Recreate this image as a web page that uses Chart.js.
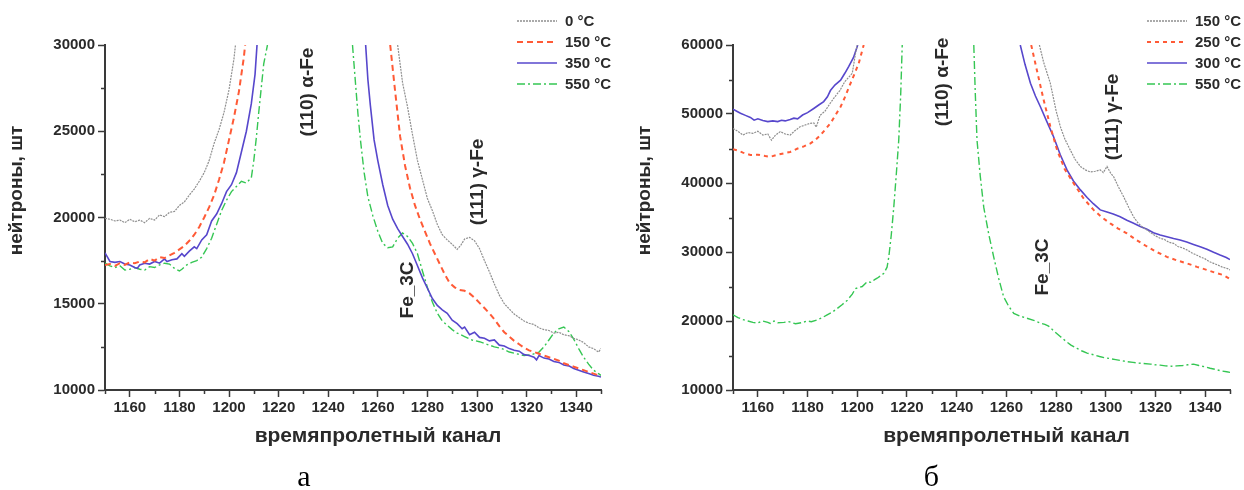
<!DOCTYPE html>
<html>
<head>
<meta charset="utf-8">
<script src="https://cdn.jsdelivr.net/npm/chart.js@4.4.1/dist/chart.umd.min.js"></script>
<style>
  html, body { margin: 0; padding: 0; background: #fff; }
  #wrap { position: relative; width: 1244px; height: 490px; overflow: hidden; }
  canvas { position: absolute; top: 0; }
  #chartA { left: 0; }
  #chartB { left: 622px; }
</style>
</head>
<body>
<div id="wrap">
  <canvas id="chartA" width="622" height="490"></canvas>
  <canvas id="chartB" width="622" height="490"></canvas>
</div>
<script>
// ---- axis ticks ----
const xTicks = [1160, 1180, 1200, 1220, 1240, 1260, 1280, 1300, 1320, 1340];
const xMinor = [1150, 1170, 1190, 1210, 1230, 1250, 1270, 1290, 1310, 1330, 1350];
const yTicksA = [10000, 15000, 20000, 25000, 30000];
const yMinorA = [12500, 17500, 22500, 27500];
const yTicksB = [10000, 20000, 30000, 40000, 50000, 60000];
const yMinorB = [15000, 25000, 35000, 45000, 55000];

// ---- panel а: channel / neutron counts (null = above the axis range) ----
const a0Ch = [1150,1152,1154,1156,1158,1160,1162,1164,1166,1168,1170,1172,1174,1176,1178,1180,1182,1184,1186,1188,1190,1192,1194,1196,1198,1200,1202,1202.6,
  1235,
  1268,1270,1272,1274,1276,1278,1280,1282,1284,1286,1288,1290,1292,1293.5,1295,1297,1299,1301,1303,1305,1307,1309,1311,1313,1315,1317,1319,1321,1323,1325,1327,1329,1331,1333,1335,1337,1339,1341,1343,1345,1347,1349,1350];
const a0N = [19950,19900,19800,19850,19700,19900,19750,19850,19700,19950,19850,20150,20050,20300,20350,20700,20900,21300,21650,22100,22600,23300,24300,25100,26100,27400,29200,30000,
  null,
  30000,27800,26400,24800,23300,22200,21100,20400,19600,19000,18700,18450,18150,18400,18750,18850,18650,18200,17500,16850,16150,15500,15000,14700,14400,14200,14000,13870,13800,13600,13500,13450,13300,13350,13200,13150,13000,12900,12750,12500,12400,12200,12400];

const a150Ch = [1150,1152,1154,1156,1158,1160,1162,1164,1166,1168,1170,1172,1174,1176,1178,1180,1182,1184,1186,1188,1190,1192,1194,1196,1198,1200,1202,1204,1206,1206.5,
  1235,
  1265,1267,1269,1271,1273,1275,1277,1279,1281,1283,1285,1287,1289,1291,1293,1295,1297,1299,1301,1303,1305,1307,1309,1311,1313,1315,1317,1319,1321,1323,1325,1327,1329,1331,1333,1335,1337,1339,1341,1343,1345,1347,1349,1350];
const a150N = [17250,17300,17200,17350,17250,17400,17350,17450,17400,17600,17500,17700,17650,17800,17950,18150,18350,18650,19000,19450,20000,20600,21300,22200,23200,24500,25800,27300,29300,30000,
  null,
  30000,27300,24700,23000,21700,20700,19900,19200,18500,17900,17300,16700,16200,15950,15800,15750,15600,15350,15050,14750,14450,14100,13700,13350,13100,12850,12650,12450,12300,12200,12100,12000,11900,11800,11700,11550,11450,11350,11250,11150,11050,10950,10850,10800];

const a350Ch = [1150,1151,1152,1154,1156,1158,1160,1162,1163,1164,1166,1168,1170,1172,1174,1175,1177,1179,1181,1182,1184,1186,1187,1189,1191,1193,1195,1197,1199,1201,1203,1205,1207,1209,1210.5,1211.3,
  1235,
  1255.1,1256,1257,1258.5,1260,1262,1264,1266,1268,1270,1272,1274,1276,1278,1280,1282,1284,1286,1288,1290,1292,1294,1295,1297,1299,1301,1303,1305,1307,1309,1311,1313,1315,1317,1319,1321,1323,1324,1325,1327,1329,1331,1333,1335,1337,1339,1341,1343,1345,1347,1349,1350];
const a350N = [17950,17700,17450,17400,17450,17300,17250,17100,17050,17250,17350,17300,17450,17350,17600,17450,17550,17600,17900,17750,18050,18300,18200,18700,19000,19800,20200,20800,21500,21900,22600,23800,25000,26600,28300,30000,
  null,
  30000,28000,26500,24500,23300,21900,20700,19900,19350,18900,18450,17900,17200,16500,15900,15300,14900,14650,14450,14050,13850,13550,13650,13200,13350,13050,13000,12850,12900,12600,12550,12400,12300,12250,12050,12000,11900,11750,12000,11850,11800,11650,11600,11450,11400,11250,11150,11050,10950,10850,10800,10750];

const a550Ch = [1150,1152,1154,1156,1158,1160,1162,1164,1166,1168,1170,1172,1174,1176,1178,1180,1181,1183,1185,1187,1189,1191,1193,1195,1197,1199,1201,1203,1205,1207,1209,1210,1211,1212,1213,1214,1215.5,
  1235,
  1249.8,1251,1252,1253,1254.5,1256,1258,1260,1262,1264,1266,1268,1270,1272,1274,1276,1278,1280,1282,1284,1286,1288,1290,1292,1295,1298,1301,1304,1307,1310,1313,1316,1319,1322,1325,1327,1329,1331,1333,1335,1337,1339,1341,1343,1345,1347,1349,1350];
const a550N = [17350,17200,17100,17200,16950,17000,17100,17000,16950,17150,17100,17250,17350,17300,17050,16900,17000,17250,17400,17500,17700,18200,18800,19600,20400,21000,21500,21800,22100,22000,22300,23300,24600,26100,27500,28900,30000,
  null,
  30000,27800,26000,24500,22600,21200,20100,19200,18500,18250,18300,18800,19100,18900,18500,17900,16900,15950,15100,14450,14000,13750,13500,13300,13100,12900,12800,12650,12500,12400,12200,12100,12000,12050,12200,12500,12900,13300,13550,13650,13400,12950,12400,11900,11500,11150,10950,10850];

// ---- panel б ----
const b150Ch = [1150,1152,1154,1156,1158,1160,1162,1164,1165.5,1167,1169,1171,1173,1175,1177,1179,1181,1182.5,1183.5,1185,1187,1189,1191,1193,1195,1197,1198,1199.3,1200,
  1235,
  1273.3,1275,1277.7,1280,1281.7,1283.5,1285.7,1287.7,1289.8,1291.8,1293.8,1295.8,1297.8,1299,1300.5,1302,1303.2,1305,1307.2,1309.2,1311.2,1313,1314.8,1316.6,1318.5,1320.2,1321.9,1323.7,1325.5,1327.3,1329,1330.9,1332.7,1334.5,1336.3,1338,1340,1341.7,1343.4,1345.2,1347,1349,1350];
const b150N = [47900,47500,46950,47300,47200,47500,46950,47100,46200,46900,47450,47100,46950,47600,48150,48400,48650,48700,48100,49800,50400,51500,52500,53400,54700,55500,55900,58800,60000,
  null,
  60000,57500,54450,50500,48200,46400,44800,43400,42400,41900,41600,41700,41900,41500,42400,41400,40900,39500,38000,36500,35100,34200,33600,33200,32700,32300,32000,31800,31400,31250,30800,30600,30300,29900,29600,29300,29000,28600,28350,28100,27800,27600,27400];

const b250Ch = [1150,1152,1154,1157,1160,1163,1165,1168,1170.5,1173,1176,1178.5,1181.2,1183,1185.2,1187,1189.2,1191,1193.3,1195,1197.3,1199,1200.6,1202.6,
  1235,
  1270,1272.5,1275,1277.7,1280.4,1283.5,1287.1,1291,1295.1,1298.5,1301.8,1305,1308.5,1312.5,1316.6,1320.5,1324.6,1328.5,1332.7,1336.7,1340.7,1344,1347.4,1350];
const b250N = [44900,44700,44400,44050,44100,43900,43800,44100,44300,44500,45000,45300,45750,46200,46950,47700,48650,49700,51050,52400,54450,55900,57350,60000,
  null,
  60000,56000,52050,48200,44800,42000,39950,37800,36100,35000,34150,33400,32700,31700,30800,30000,29300,28800,28350,27850,27400,27000,26650,26100];

const b300Ch = [1150,1151.5,1153,1155,1157,1158.5,1160,1162,1164,1166,1168,1169.5,1171,1173,1174.5,1176,1178,1180,1182.5,1184.5,1186.5,1188,1189.2,1191,1193.3,1195,1196.6,1198.5,1200.2,
  1235,
  1265.6,1267.5,1269.7,1271.7,1273.7,1276.3,1279,1281.7,1284.4,1287,1289.8,1292.5,1295,1297.8,1300.5,1303,1305.8,1308.5,1311,1313.9,1316.6,1319.2,1321.9,1324.6,1327.3,1329.9,1332.6,1335.3,1338,1340.7,1343.4,1346,1348.5,1350];
const b300N = [50700,50400,50100,49800,49500,49100,49300,49050,48900,49000,48900,49100,49000,49200,49400,49300,49850,50200,50800,51300,51800,52500,53400,54200,54900,55900,56900,58200,60000,
  null,
  60000,57200,54450,52600,51050,48900,46700,44100,41900,40300,39000,37900,37000,36100,35800,35500,35100,34600,34200,33700,33300,32800,32450,32200,31950,31750,31450,31100,30750,30400,29950,29550,29200,28900];

const b550Ch = [1150,1152,1154,1156,1158,1159.8,1162,1164,1165,1166.5,1168,1170.5,1172.5,1175.2,1177.5,1179.9,1181.5,1183.9,1186,1187.9,1190,1191.9,1194,1196,1198,1199.3,1201,1202,1204,1205.5,1207,1208,1210.7,1212,1212.7,1213.7,1214.7,1215.7,1216.7,1217.5,1218.1,
  1232,
  1246.9,1247.5,1248.2,1249.5,1250.9,1252.9,1254.9,1256.9,1258.9,1261,1263,1265.6,1268.3,1271,1273.7,1275.5,1277,1279.3,1281.7,1284,1286,1288.4,1290.5,1292.5,1295.1,1297.5,1299.3,1301.8,1304,1306.4,1308.5,1311,1313,1315.2,1318,1320,1321.9,1324,1326.4,1328.6,1331,1333,1335.3,1337.5,1340,1342,1344.5,1346.7,1348.7,1350];
const b550N = [20900,20500,20200,20000,19800,19700,20000,19800,19650,20000,19750,19800,19900,19600,19750,20000,19900,20150,20500,20900,21300,21800,22400,23000,23900,24700,24900,25000,25700,25600,26000,26200,26900,27800,29300,32500,36500,41200,46200,53000,60000,
  null,
  60000,53000,46200,41000,36500,32600,29300,26200,23500,22100,21100,20700,20400,20100,19700,19500,19250,18500,17750,17050,16500,16050,15650,15350,15100,14850,14700,14550,14400,14250,14100,14000,13900,13850,13750,13650,13600,13500,13450,13500,13550,13650,13750,13550,13350,13150,12950,12750,12650,12550];

// ---- styling ----
const FONT = '"Liberation Sans", Arial, sans-serif';
const AXIS = '#3a3a3a';
const TEXT = '#2a2a2a';
const GRAY = '#8f8f8f', ORANGE = '#ff5a36', BLUE = '#5747cc', GREEN = '#35c653';

const pts = (ch, n) => ch.map((c, i) => ({ x: c, y: n[i] }));

function series(label, ch, n, color, dash, width) {
  return {
    label, data: pts(ch, n), borderColor: color, backgroundColor: color,
    borderDash: dash, borderWidth: width, pointRadius: 0, tension: 0,
    spanGaps: false, fill: false
  };
}

// extra drawing: minor ticks, legend, axis titles, peak labels, panel letter
const decor = {
  id: 'decor',
  afterDraw(chart, args, o) {
    const { ctx, chartArea: a, scales: { x, y } } = chart;
    ctx.save();
    // minor ticks
    ctx.strokeStyle = AXIS; ctx.lineWidth = 1.5; ctx.setLineDash([]);
    ctx.beginPath();
    o.xMinor.forEach(v => { const p = Math.round(x.getPixelForValue(v)) + 0.5; ctx.moveTo(p, a.bottom); ctx.lineTo(p, a.bottom + 4); });
    o.yMinor.forEach(v => { const p = Math.round(y.getPixelForValue(v)) + 0.5; ctx.moveTo(a.left, p); ctx.lineTo(a.left - 4, p); });
    ctx.stroke();

    // legend
    ctx.font = 'bold 15px ' + FONT;
    ctx.textBaseline = 'middle'; ctx.textAlign = 'left';
    chart.data.datasets.forEach((ds, i) => {
      const ly = o.legend.y + i * 21;
      ctx.strokeStyle = ds.borderColor; ctx.lineWidth = Math.max(1.3, ds.borderWidth);
      ctx.setLineDash(ds.borderDash || []);
      ctx.beginPath(); ctx.moveTo(o.legend.x, ly); ctx.lineTo(o.legend.x + 40, ly); ctx.stroke();
      ctx.setLineDash([]);
      ctx.fillStyle = TEXT;
      ctx.fillText(ds.label, o.legend.x + 48, ly + 1);
    });

    // axis titles
    ctx.fillStyle = TEXT;
    ctx.textAlign = 'center'; ctx.textBaseline = 'middle';
    ctx.font = 'bold 21px ' + FONT;
    ctx.fillText('времяпролетный канал', (a.left + a.right) / 2 + 25, a.bottom + 46);
    ctx.font = 'bold 19px ' + FONT;
    ctx.save();
    ctx.translate(a.left - 88, (a.top + a.bottom) / 2 - 27);
    ctx.rotate(-Math.PI / 2);
    ctx.fillText('нейтроны, шт', 0, 0);
    ctx.restore();

    // peak labels
    ctx.font = 'bold 19px ' + FONT;
    o.peaks.forEach(p => {
      ctx.save();
      ctx.translate(x.getPixelForValue(p.ch), y.getPixelForValue(p.n));
      ctx.rotate(-Math.PI / 2);
      ctx.fillText(p.text, 0, 0);
      ctx.restore();
    });

    // panel letter
    ctx.fillStyle = '#000';
    ctx.font = '30px "Liberation Serif", "Times New Roman", serif';
    ctx.textBaseline = 'alphabetic';
    ctx.fillText(o.letter, (a.left + a.right) / 2 + o.letterDx, 486);
    ctx.restore();
  }
};

function makeChart(id, datasets, yMin, yMax, yTicks, yMinor, yWidth, padRight, extra) {
  const tickFont = { family: FONT, size: 15, weight: 'bold' };
  return new Chart(document.getElementById(id), {
    type: 'line',
    data: { datasets },
    plugins: [decor],
    options: {
      responsive: false, animation: false, devicePixelRatio: 1,
      layout: { padding: { left: 0, right: padRight, top: 45, bottom: 0 } },
      plugins: { legend: { display: false }, tooltip: { enabled: false }, decor: extra },
      scales: {
        x: {
          type: 'linear', min: 1150, max: 1350,
          afterBuildTicks: s => { s.ticks = xTicks.map(v => ({ value: v })); },
          afterFit: s => { s.height = 100; },
          grid: { drawOnChartArea: false, tickLength: 7, color: AXIS, tickWidth: 1.5 },
          border: { display: true, color: AXIS, width: 2 },
          ticks: { font: tickFont, color: TEXT, padding: 2, maxRotation: 0, autoSkip: false, callback: v => String(v) }
        },
        y: {
          type: 'linear', min: yMin, max: yMax,
          afterBuildTicks: s => { s.ticks = yTicks.map(v => ({ value: v })); },
          afterFit: s => { s.width = yWidth; },
          grid: { drawOnChartArea: false, tickLength: 7, color: AXIS, tickWidth: 1.5 },
          border: { display: true, color: AXIS, width: 2 },
          ticks: { font: tickFont, color: TEXT, padding: 3, autoSkip: false, callback: v => String(v) }
        }
      }
    }
  });
}

makeChart('chartA', [
  series('0 °C', a0Ch, a0N, GRAY, [2, 1], 1.2),
  series('150 °C', a150Ch, a150N, ORANGE, [6, 4], 2),
  series('350 °C', a350Ch, a350N, BLUE, [], 1.6),
  series('550 °C', a550Ch, a550N, GREEN, [8, 3, 2, 3], 1.4)
], 10000, 30000, yTicksA, yMinorA, 105, 21, {
  xMinor, yMinor: yMinorA, legend: { x: 517, y: 21 }, letter: 'а', letterDx: -49,
  peaks: [
    { text: '(110) α-Fe', ch: 1231.8, n: 27275 },
    { text: '(111) γ-Fe', ch: 1300.5, n: 22060 },
    { text: 'Fe_3C', ch: 1272, n: 15800 }
  ]
});

makeChart('chartB', [
  series('150 °C', b150Ch, b150N, GRAY, [2, 1], 1.2),
  series('250 °C', b250Ch, b250N, ORANGE, [4, 4], 2),
  series('300 °C', b300Ch, b300N, BLUE, [], 1.6),
  series('550 °C', b550Ch, b550N, GREEN, [8, 3, 2, 3], 1.4)
], 10000, 60000, yTicksB, yMinorB, 111, 14, {
  xMinor, yMinor: yMinorB, legend: { x: 525, y: 21 }, letter: 'б', letterDx: -50,
  peaks: [
    { text: '(110) α-Fe', ch: 1234.3, n: 54640 },
    { text: '(111) γ-Fe', ch: 1303, n: 49570 },
    { text: 'Fe_3C', ch: 1274.5, n: 27830 }
  ]
});
</script>
</body>
</html>
